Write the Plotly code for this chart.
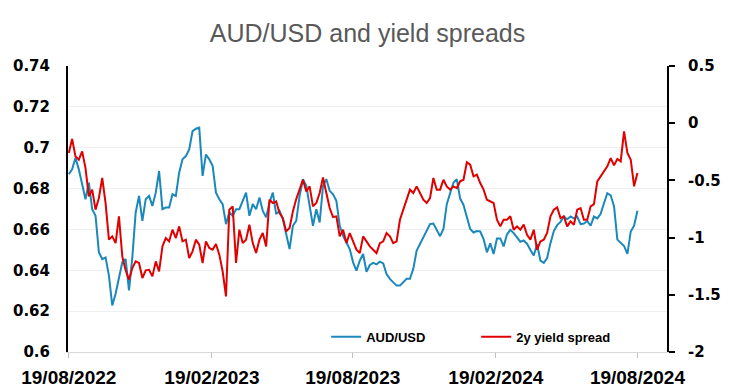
import pandas as pd
import plotly.graph_objects as go

# Sample dates (roughly every 4.3 days across the two-year window)
dates = pd.date_range("2022-08-19", "2024-08-19", periods=171)

aud_usd = [
    0.6870, 0.6894, 0.6951, 0.6894, 0.6821, 0.6748, 0.6829, 0.6699, 0.6667, 0.6488,
    0.6455, 0.6463, 0.6374, 0.6228, 0.6285, 0.6358, 0.6439, 0.6455, 0.6301, 0.6463,
    0.6683, 0.6764, 0.6642, 0.6748, 0.6764, 0.6715, 0.6780, 0.6886, 0.6699, 0.6707,
    0.6707, 0.6772, 0.6764, 0.6878, 0.6943, 0.6959, 0.6992, 0.7081, 0.7093, 0.7098,
    0.6862, 0.6967, 0.6943, 0.6911, 0.6780, 0.6748, 0.6724, 0.6626, 0.6683, 0.6667,
    0.6699, 0.6699, 0.6740, 0.6780, 0.6667, 0.6724, 0.6699, 0.6756, 0.6691, 0.6659,
    0.6732, 0.6780, 0.6675, 0.6691, 0.6650, 0.6569, 0.6504, 0.6618, 0.6642, 0.6764,
    0.6846, 0.6813, 0.6707, 0.6618, 0.6699, 0.6634, 0.6813, 0.6846, 0.6789, 0.6772,
    0.6740, 0.6618, 0.6569, 0.6540, 0.6504, 0.6439, 0.6398, 0.6447, 0.6480, 0.6393,
    0.6426, 0.6436, 0.6429, 0.6442, 0.6434, 0.6382, 0.6358, 0.6341, 0.6325, 0.6325,
    0.6341, 0.6358, 0.6358, 0.6407, 0.6496, 0.6528, 0.6561, 0.6593, 0.6626, 0.6629,
    0.6598, 0.6567, 0.6602, 0.6724, 0.6777, 0.6829, 0.6846, 0.6751, 0.6720, 0.6667,
    0.6602, 0.6585, 0.6592, 0.6590, 0.6553, 0.6488, 0.6532, 0.6480, 0.6556, 0.6556,
    0.6517, 0.6576, 0.6598, 0.6582, 0.6563, 0.6540, 0.6546, 0.6530, 0.6499, 0.6472,
    0.6528, 0.6447, 0.6436, 0.6460, 0.6533, 0.6592, 0.6621, 0.6637, 0.6663, 0.6650,
    0.6663, 0.6654, 0.6663, 0.6626, 0.6629, 0.6641, 0.6618, 0.6663, 0.6654, 0.6676,
    0.6728, 0.6777, 0.6767, 0.6714, 0.6550, 0.6535, 0.6519, 0.6480, 0.6590, 0.6618,
    0.6691,
]

yield_spread_2y = [
    -0.261, -0.138, -0.290, -0.319, -0.246, -0.392, -0.640, -0.581, -0.756, -0.654,
    -0.479, -0.698, -1.018, -0.989, -1.048, -0.814, -1.164, -1.286, -1.368, -1.266,
    -1.208, -1.222, -1.353, -1.286, -1.281, -1.339, -1.208, -1.295, -1.077, -1.004,
    -1.033, -0.931, -1.004, -0.902, -1.033, -1.018, -1.179, -1.120, -1.018, -1.062,
    -1.222, -1.033, -1.091, -1.106, -1.056, -1.149, -1.295, -1.514, -0.756, -0.727,
    -1.222, -0.931, -1.048, -1.018, -0.887, -1.048, -1.135, -1.018, -0.960, -1.077,
    -0.669, -0.698, -0.683, -0.785, -0.829, -0.946, -0.916, -0.771, -0.663, -0.581,
    -0.494, -0.596, -0.552, -0.727, -0.698, -0.610, -0.474, -0.610, -0.742, -0.820,
    -0.814, -0.989, -0.931, -1.048, -0.960, -1.033, -1.106, -1.135, -0.989, -1.033,
    -1.077, -1.106, -1.135, -1.048, -1.033, -0.960, -0.989, -1.048, -1.033, -0.844,
    -0.756, -0.669, -0.581, -0.610, -0.552, -0.610, -0.669, -0.698, -0.654, -0.479,
    -0.581, -0.581, -0.494, -0.552, -0.581, -0.552, -0.567, -0.508, -0.494, -0.342,
    -0.363, -0.465, -0.450, -0.523, -0.581, -0.669, -0.683, -0.698, -0.844, -0.902,
    -0.844, -0.844, -0.814, -0.931, -0.902, -0.931, -0.887, -0.975, -1.018, -0.931,
    -1.106, -1.033, -1.018, -0.960, -0.814, -0.756, -0.736, -0.829, -0.814, -0.902,
    -0.858, -0.887, -0.756, -0.742, -0.844, -0.844, -0.727, -0.707, -0.508, -0.465,
    -0.421, -0.377, -0.305, -0.369, -0.313, -0.334, -0.071, -0.261, -0.319, -0.552,
    -0.436,
]

x_tick_dates = ["2022-08-19", "2023-02-19", "2023-08-19", "2024-02-19", "2024-08-19"]
x_tick_text = ["19/08/2022", "19/02/2023", "19/08/2023", "19/02/2024", "19/08/2024"]
left_ticks = [0.6, 0.62, 0.64, 0.66, 0.68, 0.7, 0.72, 0.74]
left_tick_text = ["0.6", "0.62", "0.64", "0.66", "0.68", "0.7", "0.72", "0.74"]
right_ticks = [-2, -1.5, -1, -0.5, 0, 0.5]
right_tick_text = ["-2", "-1.5", "-1", "-0.5", "0", "0.5"]

BLUE = "#1a88bb"
RED = "#e00000"

fig = go.Figure()
fig.add_trace(go.Scatter(x=dates, y=aud_usd, name="AUD/USD", mode="lines",
                         line=dict(color=BLUE, width=2), yaxis="y"))
fig.add_trace(go.Scatter(x=dates, y=yield_spread_2y, name="2y yield spread", mode="lines",
                         line=dict(color=RED, width=2), yaxis="y2"))

# The page body adds an 8px offset, so margins are set relative to that.
W, H = 730, 391
ML, MR, MT, MB = 60, 71, 58, 47

fig.update_layout(
    template="none",
    width=W, height=H,
    margin=dict(l=ML, r=MR, t=MT, b=MB, pad=0, autoexpand=False),
    paper_bgcolor="white", plot_bgcolor="white",
    font=dict(family="Liberation Sans", color="#000000"),
    title=dict(text="AUD/USD and yield spreads", x=0.5, xref="paper", xanchor="center",
               y=1 - 25 / H, yref="container", yanchor="middle",
               font=dict(family="Liberation Sans", size=25, color="#595959")),
    showlegend=True,
    legend=dict(orientation="h", x=0.431, xanchor="left", y=0.053, yanchor="middle",
                bgcolor="rgba(0,0,0,0)", borderwidth=0, entrywidth=105,
                font=dict(family="Liberation Sans", size=13, color="#000000", weight="bold")),
    xaxis=dict(type="date", range=["2022-08-18", "2024-09-26"], automargin=False,
               tickvals=x_tick_dates, ticktext=x_tick_text,
               showgrid=False, zeroline=False,
               showline=True, linecolor="#d9d9d9", linewidth=1,
               ticks="outside", ticklen=5, tickcolor="#bfbfbf", tickwidth=1,
               ticklabelstandoff=3,
               tickfont=dict(family="Liberation Sans", size=19, color="#000000", weight="bold")),
    yaxis=dict(range=[0.6, 0.74], tickvals=left_ticks, ticktext=left_tick_text,
               automargin=False,
               showgrid=True, gridcolor="#eeeeee", gridwidth=1, zeroline=False,
               showline=True, linecolor="#000000", linewidth=2,
               ticks="", ticklabelstandoff=13,
               tickfont=dict(family="DejaVu Sans", size=15, color="#000000", weight="bold")),
    yaxis2=dict(range=[-2, 0.5], tickvals=right_ticks, ticktext=right_tick_text,
                automargin=False,
                overlaying="y", side="right", showgrid=False, zeroline=False,
                showline=True, linecolor="#000000", linewidth=2,
                ticks="outside", ticklen=6, tickcolor="#000000", tickwidth=2,
                ticklabelstandoff=10,
                tickfont=dict(family="DejaVu Sans", size=15, color="#000000", weight="bold")),
)

fig.write_html("out.html")
